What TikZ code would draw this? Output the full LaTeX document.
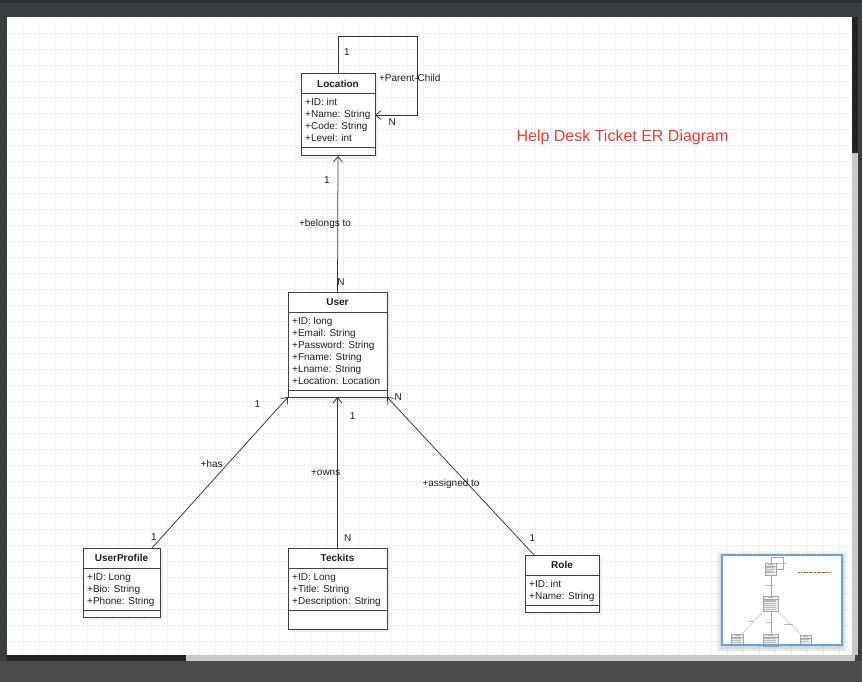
\documentclass[tikz,border=0pt]{standalone}
\usepackage{fontspec}
\setmainfont{Liberation Sans}
\usetikzlibrary{arrows.meta,calc}
\definecolor{frameA}{HTML}{3B3E41}
\definecolor{frameTop}{HTML}{2A2C2F}
\definecolor{frameBot}{HTML}{4A4B4D}
\definecolor{scrollDark}{HTML}{242424}
\definecolor{scrollLight}{HTML}{C8C8C8}
\definecolor{gridc}{HTML}{F0F0F0}
\definecolor{boxc}{HTML}{404040}
\definecolor{edgec}{HTML}{333333}
\definecolor{lblc}{HTML}{1E1E1E}
\definecolor{shadowc}{HTML}{EFEFEF}
\definecolor{titlec}{HTML}{E53E3E}
\definecolor{mapblue}{HTML}{6A9FD8}
\tikzset{
  box/.style={rectangle, draw=boxc, line width=1pt, fill=white, outer sep=0pt, inner sep=0pt},
  boxline/.style={draw=boxc, line width=1pt},
  edge/.style={draw=edgec, line width=0.75pt, -{Straight Barb[length=5.5pt,width=9pt]}},
  lbl/.style={font=\fontsize{10}{12}\selectfont, text=lblc, inner sep=0pt, anchor=base},
  attr/.style={font=\fontsize{10}{12}\selectfont, text=lblc, inner sep=0pt, anchor=base west},
  hdr/.style={font=\bfseries\fontsize{10}{12}\selectfont, text=lblc, inner sep=0pt, anchor=base},
  thumb/.style={draw=gray!70, line width=0.3pt},
  thumbtext/.style={draw=gray!55, line width=0.5pt},
}
\newcommand\classbox[9]{%
  \fill[shadowc] ({#2+3},{#3+3}) rectangle ({#4+3},{#5+3});
  \node[box, anchor=north west, minimum width={#4-#2}, minimum height={#5-#3}] (#1) at (#2,#3) {};
  \draw[boxline] (#2,#6) -- (#4,#6);
  \draw[boxline] (#2,#7) -- (#4,#7);
  \node[hdr] (#1-title) at ({(#2+#4)/2},{(#3+#6)/2+3.6}) {#8};
  \foreach \t [count=\i] in {#9} {\node[attr] (#1-a\i) at ({#2+4},{#6+12*\i}) {\t};}
}
\begin{document}
\begin{tikzpicture}[x=1pt,y=-1pt]
\useasboundingbox (0,0) rectangle (862,682);
% frame
\fill[frameA] (0,0) rectangle (862,682);
\fill[frameTop] (0,0) rectangle (862,3);
\fill[frameBot] (0,661) rectangle (862,682);
\fill[white] (7,17) rectangle (852,655);
\foreach \x in {23,39,...,851} \draw[gridc, line width=0.8pt] (\x,17) -- (\x,655);
\foreach \y in {33,49,...,654} \draw[gridc, line width=0.8pt] (7,\y) -- (852,\y);
\fill[scrollDark] (7,655) rectangle (186,661);
\fill[scrollLight] (186,655) rectangle (855,661);
\fill[scrollDark] (852,17) rectangle (858,153);
\fill[scrollLight] (852,153) rectangle (858,655);

% title
\node[font=\fontsize{16}{19}\selectfont, text=titlec, inner sep=0pt, anchor=base] (title) at (622.5,141.7) {Help Desk Ticket ER Diagram};

% class boxes
\classbox{loc}{301}{74}{375}{156}{94}{148}{Location}{+ID: int,+Name: String,+Code: String,+Level: int}
\classbox{user}{288}{292}{387}{397}{312}{390}{User}{+ID: long,+Email: String,+Password: String,+Fname: String,+Lname: String,+Location: Location}
\classbox{up}{83}{548}{160}{617}{568}{610}{UserProfile}{+ID: Long,+Bio: String,+Phone: String}
\classbox{tk}{288}{548}{387}{629}{568}{610}{Teckits}{+ID: Long,+Title: String,+Description: String}
\classbox{role}{525}{555}{599}{612}{575}{605}{Role}{+ID: int,+Name: String}

% connectors
\coordinate (loopTR) at (417,36);
\draw[edge] (loc.north) |- (loopTR) |- (loc.east);
\draw[edge] (user.north) -- (loc.south);
\draw[edge] ($(up.north east)+(-8,0)$) -- (user.south west);
\draw[edge] (tk.north) -- (user.south);
\draw[edge] ($(role.north west)+(9,0)$) -- (user.south east);

% connector labels
\node[lbl] (l1) at (347,56) {1};
\node[lbl] (l2) at (409.8,81.3) {+Parent-Child};
\node[lbl] (l3) at (392.3,125.3) {N};
\node[lbl] (l4) at (327,183.6) {1};
\node[lbl] (l5) at (325,226.6) {+belongs to};
\node[lbl] (l6) at (341,285.6) {N};
\node[lbl] (l7) at (257.3,407.6) {1};
\node[lbl] (l8) at (211.7,467) {+has};
\node[lbl] (l9) at (154,540.3) {1};
\node[lbl] (l10) at (352.7,419.3) {1};
\node[lbl] (l11) at (325.7,475.3) {+owns};
\node[lbl] (l12) at (347.7,541.3) {N};
\node[lbl] (l13) at (398.3,400.3) {N};
\node[lbl] (l14) at (451,486.3) {+assigned to};
\node[lbl] (l15) at (532.3,541) {1};

% minimap
\foreach \d/\o in {6/0.03,4/0.05,2/0.07} \fill[black, opacity=\o] ({722-\d},{555-\d+2}) rectangle ({842+\d},{645+\d+2});
\fill[white] (722,555) rectangle (842,645);
\begin{scope}[shift={(765,563)}, xscale=0.155, yscale=0.15, shift={(-301,-74)}]
  \foreach \xa/\ya/\xb/\yb/\hh/\ss/\n in {301/74/375/156/94/148/4, 288/292/387/397/312/390/6, 83/548/160/617/568/610/3, 288/548/387/629/568/610/3, 525/555/599/612/575/605/2} {
    \fill[gray!15] (\xa,\ya) rectangle (\xb,\yb);
    \draw[thumb] (\xa,\ya) rectangle (\xb,\yb);
    \draw[thumb] (\xa,\hh) -- (\xb,\hh);
    \draw[thumbtext] ({(\xa+\xb)/2-15},{(\ya+\hh)/2}) -- ({(\xa+\xb)/2+15},{(\ya+\hh)/2});
    \foreach \k in {1,...,\n} \draw[thumbtext] ({\xa+5},{\hh+12*\k-4}) -- ({\xb-15},{\hh+12*\k-4});
  }
  \draw[thumb] (338,74) |- (417,36) |- (375,115);
  \draw[thumb] (338,292) -- (338,156);
  \draw[thumb] (152,548) -- (288,397);
  \draw[thumb] (338,548) -- (338,397);
  \draw[thumb] (534,555) -- (387,397);
  \draw[titlec, line width=0.5pt, dash pattern=on 2pt off 0.6pt] (517,137) -- (728,137);
  \draw[thumbtext] (300,223) -- (350,223);
  \draw[thumbtext] (195,464) -- (225,464);
  \draw[thumbtext] (310,471) -- (340,471);
  \draw[thumbtext] (425,483) -- (480,483);
  \draw[thumbtext] (380,77) -- (440,77);
\end{scope}
\draw[mapblue, line width=1.2pt] (722,555) rectangle (842,645);
\end{tikzpicture}
\end{document}
